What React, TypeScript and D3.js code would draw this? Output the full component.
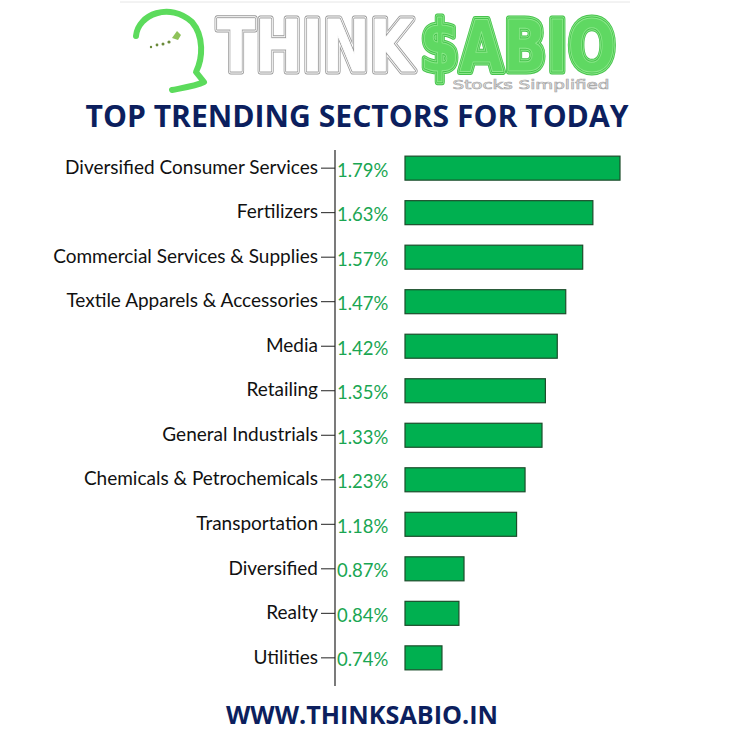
import React from "react";
import * as d3 from "d3";

const sectors = [
  "Diversified Consumer Services",
  "Fertilizers",
  "Commercial Services & Supplies",
  "Textile Apparels & Accessories",
  "Media",
  "Retailing",
  "General Industrials",
  "Chemicals & Petrochemicals",
  "Transportation",
  "Diversified",
  "Realty",
  "Utilities",
];
const changes = [1.79, 1.63, 1.57, 1.47, 1.42, 1.35, 1.33, 1.23, 1.18, 0.87, 0.84, 0.74];

const W = 745;
const H = 741;
const axisX = 335;
const barX0 = 405;

function Striped({ id, text, x, colors }: { id: string; text: string; x: number; colors: string[] }) {
  return (
    <g>
      <defs>
        <text id={id} x={x} y={71} textAnchor="middle" fontFamily="DejaVu Sans" fontWeight="bold"
          fontSize={72} textLength={196} lengthAdjust="spacingAndGlyphs" strokeLinejoin="round">{text}</text>
      </defs>
      <use href={`#${id}`} fill="none" stroke={colors[0]} strokeWidth={7} />
      <use href={`#${id}`} fill="none" stroke={colors[1]} strokeWidth={5} />
      <use href={`#${id}`} fill="none" stroke={colors[0]} strokeWidth={3} />
      <use href={`#${id}`} fill={colors[2]} stroke={colors[1]} strokeWidth={1} />
    </g>
  );
}

export default function App() {
  const y = d3.scaleBand<string>().domain(sectors).range([147, 679]).paddingInner(0.45).paddingOuter(0.2);
  const x = d3.scaleLinear().domain([0.522, 1.79]).range([barX0, 620]);
  const fmt = (v: number) => v.toFixed(2) + "%";
  const bh = 24;

  return (
    <svg width={W} height={H} style={{ position: "absolute", left: 0, top: 0, background: "#fff" }}>
      <rect width={W} height={H} fill="#fff" />
      {/* logo */}
      <g>
        <line x1={120} y1={2} x2={630} y2={2} stroke="#e6e6e6" />
        <path d="M136,36 C138,14 170,2 192,22 C204,36 203,58 196,72 L204,82 C196,86 182,88 172,90"
          fill="none" stroke="#5cdb5c" strokeWidth={6} strokeLinecap="round" strokeLinejoin="round" />
        <g fill="#6a8a3a">
          <circle cx={151} cy={47} r={1.2} />
          <circle cx={157} cy={45} r={1.4} />
          <circle cx={163} cy={44} r={1.5} />
          <circle cx={169} cy={42} r={1.6} />
          <path d="M172,38 l5,-7 l4,4 l-3,5 z" fill="#8fc25a" />
        </g>
        <Striped id="logo-think" text="THINK" x={315} colors={["#9a9a9a", "#ffffff", "#ffffff"]} />
        <Striped id="logo-sabio" text="$ABIO" x={518} colors={["#46c24c", "#8be88a", "#5fd862"]} />
        <text x={531} y={89} textAnchor="middle" fontFamily="DejaVu Sans" fontSize={13}
          textLength={157} lengthAdjust="spacingAndGlyphs" fill="#fff" stroke="#a8a8a8" strokeWidth={0.7}>Stocks Simplified</text>
      </g>
      {/* title */}
      <text x={357} y={127} textAnchor="middle" fontFamily="Open Sans" fontWeight="bold" fontSize={30}
        textLength={543} lengthAdjust="spacingAndGlyphs" fill="#0c1f5e">TOP TRENDING SECTORS FOR TODAY</text>

      {/* axis */}
      <line x1={axisX} y1={150} x2={axisX} y2={686} stroke="#222" strokeWidth={1.2} />
      {sectors.map((s, i) => {
        const cy = (y(s) as number) + y.bandwidth() / 2;
        return (
          <g key={s}>
            <line x1={axisX - 14} y1={cy} x2={axisX} y2={cy} stroke="#222" strokeWidth={1} />
            <text x={axisX - 17} y={cy} dy="0.3em" textAnchor="end" fontFamily="Lato" fontSize={19} fill="#111">{s}</text>
            <text x={axisX + 2} y={cy + 2} dy="0.35em" fontFamily="Lato" fontSize={18.5} fill="#1aa652">{fmt(changes[i])}</text>
            <rect x={barX0} y={cy - bh / 2} width={x(changes[i]) - barX0} height={bh}
              fill="#00b050" stroke="#1b4d2b" strokeWidth={1.2} />
          </g>
        );
      })}

      <text x={362} y={724} textAnchor="middle" fontFamily="Open Sans" fontWeight="bold" fontSize={25}
        textLength={272} lengthAdjust="spacingAndGlyphs" fill="#0c1f5e">WWW.THINKSABIO.IN</text>
    </svg>
  );
}
